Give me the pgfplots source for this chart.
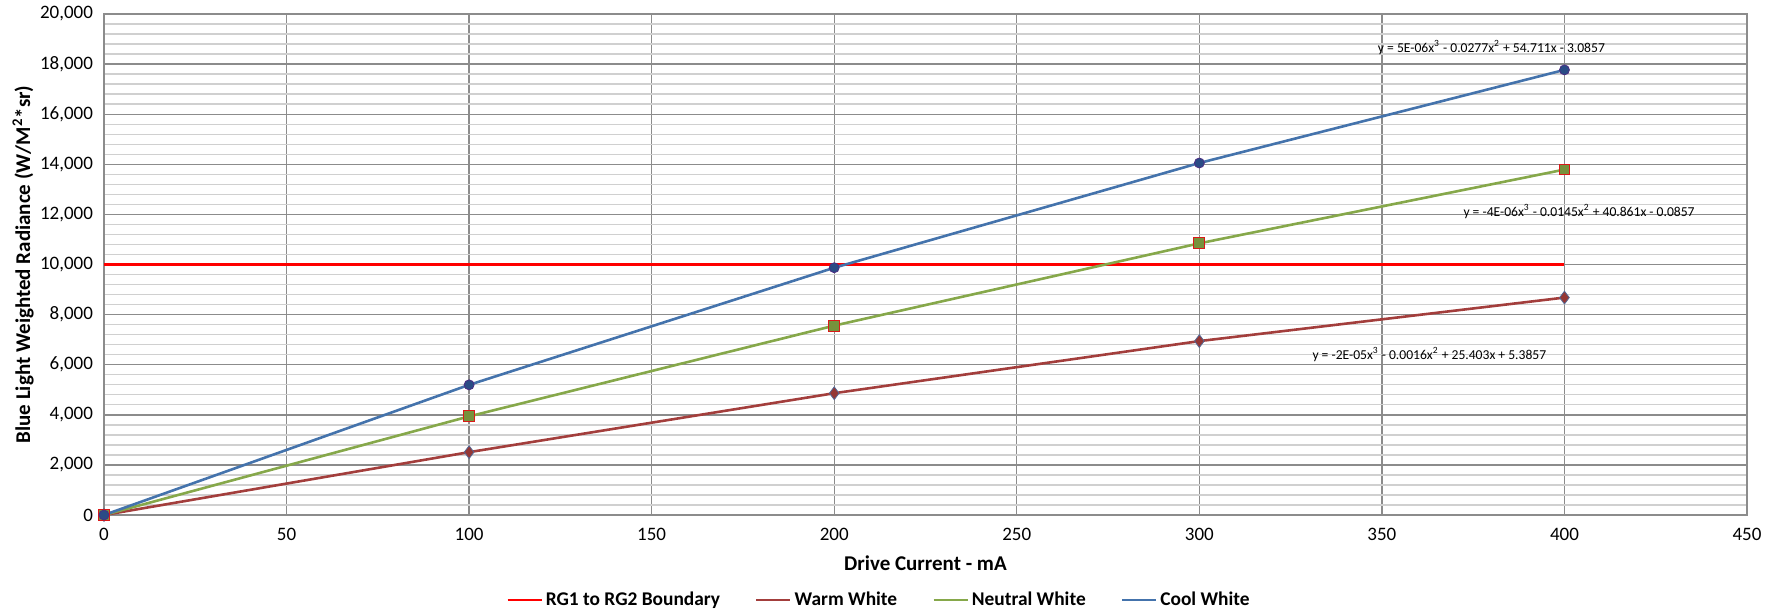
\documentclass[border=0pt]{standalone}
\usepackage{pgfplots}
\pgfplotsset{compat=1.18}
\usepackage{fontspec}
\setmainfont{Carlito}
\definecolor{coolc}{HTML}{4473AC}
\definecolor{warmc}{HTML}{A33E3C}
\definecolor{neutc}{HTML}{86A84A}
\definecolor{coolm}{HTML}{2A4B85}
\definecolor{warmm}{HTML}{953735}
\definecolor{neutm}{HTML}{76923C}
\definecolor{majgrid}{HTML}{8C8C8C}
\definecolor{mingrid}{HTML}{D0D0D0}
\begin{document}
\begin{tikzpicture}
\useasboundingbox (-52pt,-48pt) rectangle (835.5pt,257.5pt);
\begin{axis}[
  at={(0,0)}, anchor=south west,
  scale only axis, width=821.5pt, height=250.5pt,
  xmin=0, xmax=450, ymin=0, ymax=20000,
  xtick={0,50,...,450}, ytick={0,2000,...,20000},
  minor y tick num=4,
  grid=both,
  major grid style={draw=majgrid, line width=0.7pt},
  minor grid style={draw=mingrid, line width=0.7pt},
  axis line style={draw=majgrid, line width=0.7pt},
  major tick length=0pt, minor tick length=0pt,
  scaled y ticks=false,
  /pgf/number format/.cd, 1000 sep={,}, assume math mode=true,
  /pgfplots/.cd,
  tick label style={font=\fontsize{9.5}{11}\selectfont, text=black},
  xticklabel style={yshift=-3pt},
  yticklabel style={xshift=-2pt},
  xlabel={\textbf{Drive Current - mA}},
  ylabel={\textbf{Blue Light Weighted Radiance (W/M\textsuperscript{2}*sr)}},
  label style={font=\fontsize{10.5}{12}\selectfont},
  xlabel style={at={(axis description cs:0.5,0)}, anchor=center, yshift=-24pt},
  ylabel style={at={(axis description cs:0,0.5)}, anchor=center, xshift=0pt, yshift=40.5pt},
  legend columns=4,
  legend style={at={(axis description cs:0.472,0)}, anchor=center, yshift=-42.5pt,
    draw=none, fill=none, font=\bfseries\fontsize{9.7}{12}\selectfont,
    /tikz/every even column/.append style={column sep=16pt},
    /tikz/every odd column/.append style={column sep=0pt},
    nodes={inner sep=1.5pt}},
  legend cell align=left,
  legend image code/.code={\draw[#1, mark=none] (0pt,0pt) -- (17pt,0pt);},
]
\addplot[red, line width=1.2pt, mark=none] coordinates {(0,10000) (400,10000)};
\addlegendentry{RG1 to RG2 Boundary}
\addplot[warmc, line width=1.3pt, mark=diamond*, mark size=3.2pt,
  mark options={fill=warmm, draw=coolc!80!warmm, line width=0.4pt}]
  coordinates {(0,0) (100,2509) (200,4862) (300,6942) (400,8680)};
\addlegendentry{Warm White}
\addplot[neutc, line width=1.3pt, mark=square*, mark size=2.7pt,
  mark options={fill=neutm, draw=red!60!warmc, line width=0.5pt}]
  coordinates {(0,0) (100,3937) (200,7560) (300,10845) (400,13790)};
\addlegendentry{Neutral White}
\addplot[coolc, line width=1.3pt, mark=*, mark size=2.5pt,
  mark options={fill=coolm, draw=coolm!60!violet, line width=0.4pt}]
  coordinates {(0,0) (100,5196) (200,9871) (300,14052) (400,17769)};
\addlegendentry{Cool White}
\node[font=\fontsize{6.8}{8}\selectfont, anchor=center] at (axis cs:380,18650)
  {y = 5E-06x\textsuperscript{3} - 0.0277x\textsuperscript{2} + 54.711x - 3.0857};
\node[font=\fontsize{6.8}{8}\selectfont, anchor=center] at (axis cs:404,12100)
  {y = -4E-06x\textsuperscript{3} - 0.0145x\textsuperscript{2} + 40.861x - 0.0857};
\node[font=\fontsize{6.8}{8}\selectfont, anchor=center] at (axis cs:363,6400)
  {y = -2E-05x\textsuperscript{3} - 0.0016x\textsuperscript{2} + 25.403x + 5.3857};
\end{axis}
\end{tikzpicture}
\end{document}
